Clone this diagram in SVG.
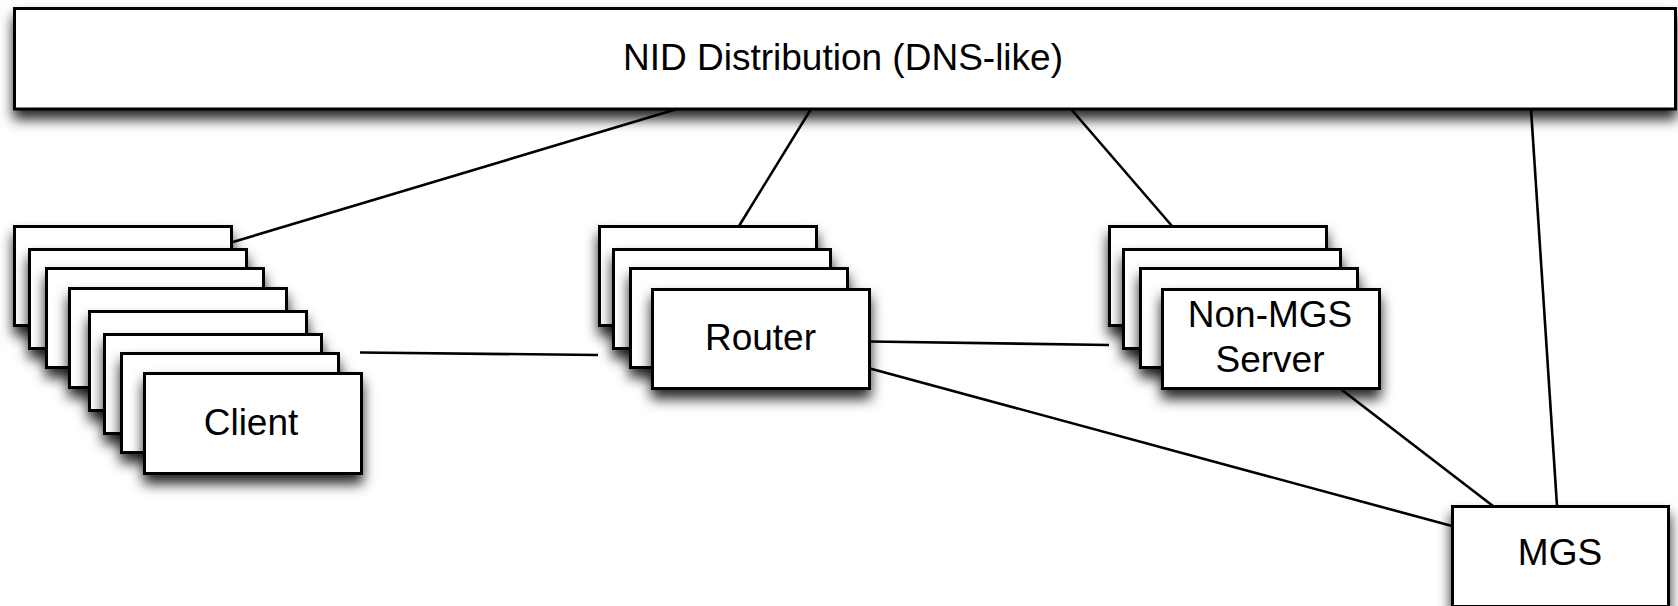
<svg xmlns="http://www.w3.org/2000/svg" width="1678" height="606" viewBox="0 0 1678 606">
<defs>
<filter id="sh" x="-10%" y="-20%" width="120%" height="170%">
<feDropShadow dx="0" dy="9" stdDeviation="6.5" flood-color="#000" flood-opacity="0.85"/>
</filter>
<style>
.b{fill:#fff;stroke:#000;stroke-width:3;filter:url(#sh)}
.t{font-family:"Liberation Sans",Arial,Helvetica,sans-serif;font-size:37px;fill:#000;text-anchor:middle}
.c{stroke:#000;stroke-width:2.6;fill:none;stroke-linecap:butt}
</style>
</defs>
<rect width="1678" height="606" fill="#fff"/>
<g id="nid">
<rect class="b" x="14.5" y="8.5" width="1661" height="100.5"/>
<text class="t" x="843" y="70">NID Distribution (DNS-like)</text>
</g>
<g id="client">
<rect class="b" x="14.5" y="226.5" width="217" height="99"/>
<rect class="b" x="29.5" y="249.5" width="217" height="99"/>
<rect class="b" x="46.5" y="268.5" width="217" height="99"/>
<rect class="b" x="69.5" y="288.5" width="217" height="99"/>
<rect class="b" x="89.5" y="311.5" width="217" height="99"/>
<rect class="b" x="104.5" y="334.5" width="217" height="99"/>
<rect class="b" x="121.5" y="353.5" width="217" height="99"/>
<rect class="b" x="144.5" y="373.5" width="217" height="100"/>
<text class="t" x="251" y="435">Client</text>
</g>
<g id="router">
<rect class="b" x="599.5" y="226.5" width="217" height="99"/>
<rect class="b" x="613.5" y="249.5" width="217" height="99"/>
<rect class="b" x="630.5" y="268.5" width="217" height="99"/>
<rect class="b" x="652.5" y="289.5" width="217" height="99"/>
<text class="t" x="760.5" y="350">Router</text>
</g>
<g id="nonmgs">
<rect class="b" x="1109.5" y="226.5" width="217" height="99"/>
<rect class="b" x="1123.5" y="249.5" width="217" height="99"/>
<rect class="b" x="1140.5" y="268.5" width="217" height="99"/>
<rect class="b" x="1162.5" y="289.5" width="217" height="99"/>
<text class="t" x="1270" y="327">Non-MGS</text>
<text class="t" x="1270" y="372">Server</text>
</g>
<g id="mgs">
<rect class="b" x="1452.5" y="506.5" width="216" height="100"/>
<text class="t" x="1560" y="565">MGS</text>
</g>
<g id="connectors">
<line class="c" x1="677" y1="109" x2="233" y2="242"/>
<line class="c" x1="811" y1="109" x2="739" y2="226"/>
<line class="c" x1="1071" y1="109" x2="1172" y2="226"/>
<line class="c" x1="1531" y1="109" x2="1557" y2="506"/>
<line class="c" x1="360" y1="352.5" x2="598" y2="355"/>
<line class="c" x1="870" y1="341.5" x2="1109" y2="345"/>
<line class="c" x1="870" y1="368.5" x2="1452" y2="526"/>
<line class="c" x1="1342" y1="390" x2="1493" y2="506"/>
</g>
</svg>
